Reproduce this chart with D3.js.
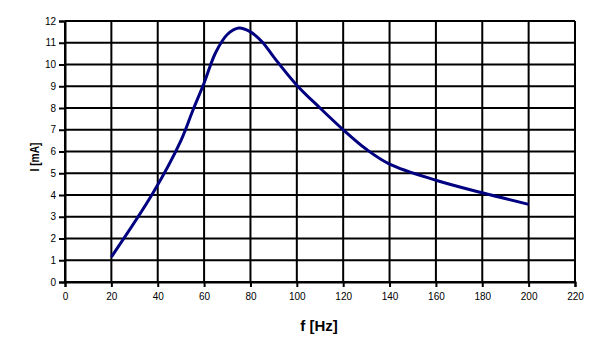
<!DOCTYPE html>
<html>
<head>
<meta charset="utf-8">
<script src="https://cdn.jsdelivr.net/npm/d3@7"></script>
<style>
  html, body { margin: 0; padding: 0; background: #fff; }
  svg { display: block; }
  text { font-family: "Liberation Sans", Arial, Helvetica, sans-serif; }
</style>
</head>
<body>
<svg id="chart" width="600" height="355"></svg>
<script>
const freq = [20, 38, 50, 55, 60, 65, 70, 75, 80, 85, 90, 100, 110, 120, 130, 140, 160, 180, 200];
const current = [1.15, 4.1, 6.5, 7.85, 9.15, 10.55, 11.38, 11.68, 11.5, 11.05, 10.35, 9.05, 8.0, 7.0, 6.1, 5.42, 4.68, 4.1, 3.57];
const xTicks = [0, 20, 40, 60, 80, 100, 120, 140, 160, 180, 200, 220];
const yTicks = [0, 1, 2, 3, 4, 5, 6, 7, 8, 9, 10, 11, 12];
const xTitle = "f [Hz]";
const yTitle = "I [mA]";

const svg = d3.select("#chart");
const plotLeft = 65, plotRight = 575, plotTop = 21, plotBottom = 282;

const x = d3.scaleLinear().domain([0, 220]).range([plotLeft, plotRight]);
const y = d3.scaleLinear().domain([0, 12]).range([plotBottom, plotTop]);

// grid
const grid = svg.append("g");
grid.selectAll("line.h").data(yTicks).join("line").attr("class", "h")
  .attr("x1", plotLeft).attr("x2", plotRight)
  .attr("y1", d => y(d)).attr("y2", d => y(d))
  .attr("stroke", "#000").attr("stroke-width", 2);
grid.selectAll("line.v").data(xTicks).join("line").attr("class", "v")
  .attr("y1", plotTop).attr("y2", plotBottom)
  .attr("x1", d => x(d)).attr("x2", d => x(d))
  .attr("stroke", "#000").attr("stroke-width", 2);

// axes
const xAxis = svg.append("g").attr("transform", `translate(0,${plotBottom})`)
  .call(d3.axisBottom(x).tickValues(xTicks).tickSize(5).tickPadding(6).tickFormat(d3.format("d")));
const yAxis = svg.append("g").attr("transform", `translate(${plotLeft},0)`)
  .call(d3.axisLeft(y).tickValues(yTicks).tickSize(6).tickPadding(3).tickFormat(d3.format("d")));
[xAxis, yAxis].forEach(a => {
  a.select(".domain").attr("stroke", "#000").attr("stroke-width", 2);
  a.selectAll(".tick line").attr("stroke", "#000").attr("stroke-width", 2);
  a.selectAll(".tick text").attr("fill", "#000")
    .style("font-family", "'Liberation Sans', Arial, sans-serif").style("font-size", "10px");
});

// line
const line = d3.line().x((d, i) => x(freq[i])).y(d => y(d)).curve(d3.curveCatmullRom.alpha(0.5));
svg.append("path").datum(current)
  .attr("d", line)
  .attr("fill", "none")
  .attr("stroke", "#000080")
  .attr("stroke-width", 3)
  .attr("stroke-linejoin", "round");

// titles
svg.append("text").text(xTitle)
  .attr("x", 319).attr("y", 331)
  .attr("text-anchor", "middle")
  .style("font-weight", "bold").style("font-size", "15px");
svg.append("text").text(yTitle)
  .attr("transform", "translate(39,157) rotate(-90)")
  .attr("text-anchor", "middle")
  .attr("textLength", 29).attr("lengthAdjust", "spacingAndGlyphs")
  .style("font-weight", "bold").style("font-size", "12px");
</script>
</body>
</html>
